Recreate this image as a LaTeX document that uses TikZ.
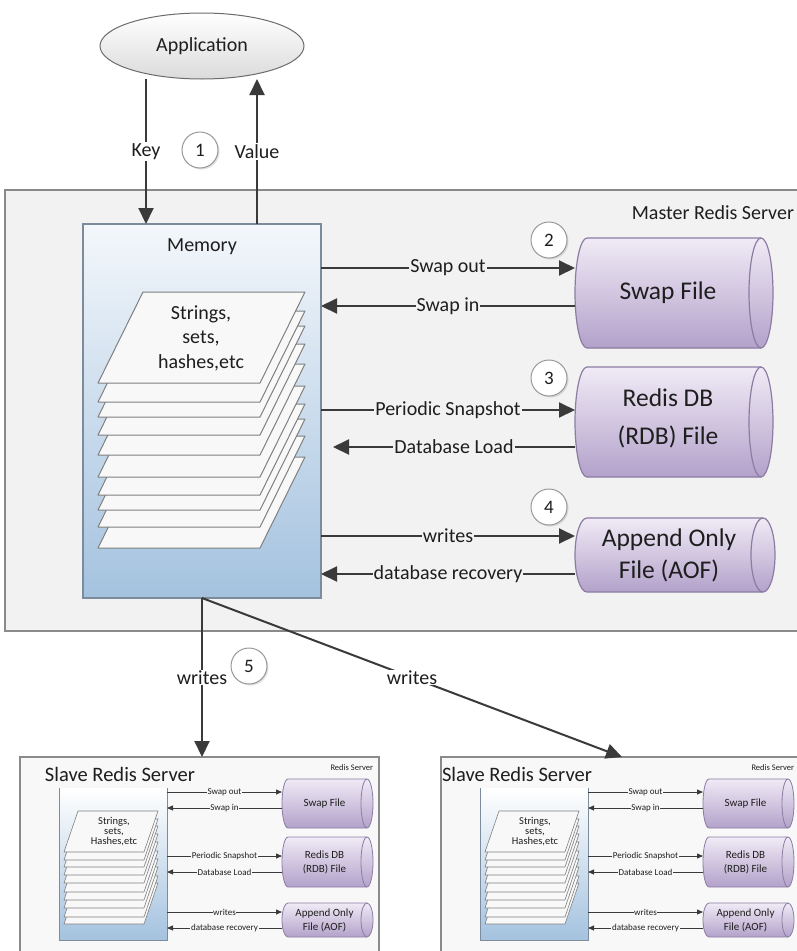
\documentclass[tikz,border=0pt]{standalone}
\usepackage{fontspec}
\setmainfont{Carlito}
\usetikzlibrary{arrows.meta,shapes.geometric,shadows,calc}
\definecolor{ink}{HTML}{1E1E1E}
\definecolor{arrowc}{HTML}{3A3A3A}
\definecolor{masterbg}{HTML}{F2F2F2}
\definecolor{slavebg}{HTML}{F8F8F8}
\definecolor{boxline}{HTML}{8A8A8A}
\definecolor{memtop}{HTML}{F3F7FB}
\definecolor{membot}{HTML}{A4C2DF}
\definecolor{memline}{HTML}{7D8C9C}
\definecolor{cyltop}{HTML}{F0EBF6}
\definecolor{cylbot}{HTML}{B3A1CA}
\definecolor{cylline}{HTML}{8C7CA3}
\definecolor{sheetc}{HTML}{F8F8F8}
\definecolor{sheetline}{HTML}{7F7F7F}
\newcommand\myfs[2]{\fontsize{#1}{#2}\selectfont}

\tikzset{
  every node/.append style={text=ink, outer sep=0pt},
  arr/.style={draw=arrowc, line width=2pt, -{Triangle[length=16pt,width=15pt]}},
  sarr/.style={draw=arrowc, line width=0.8pt, -{Triangle[length=6pt,width=5pt]}},
  lbl/.style={fill=masterbg, inner sep=1pt, font=\myfs{20}{22}},
  slbl/.style={fill=slavebg, inner sep=0.6pt, font=\myfs{9}{10}},
  num/.style={circle, draw=gray!80, line width=1pt, fill=white, minimum size=36pt, inner sep=0pt, font=\myfs{19}{20},
    drop shadow={shadow xshift=1.5pt, shadow yshift=-1.5pt, opacity=0.25}},
  memstyle/.style={draw=memline, line width=1.2pt, top color=memtop, bottom color=membot, inner sep=0pt},
  smemfill/.style={top color=white, bottom color=membot, inner sep=0pt},
  msheet/.style={draw=sheetline, fill=sheetc, line width=1pt, line join=round},
  ssheet/.style={draw=sheetline, fill=sheetc, line width=0.6pt, line join=round},
  cylbody/.style={draw=cylline, top color=cyltop, bottom color=cylbot},
}

% #1 name, #2 L, #3 T, #4 R, #5 B, #6 rx, #7 text options, #8 text, #9 line width
\newcommand\cyl[9]{%
  \pgfmathsetmacro\cxa{#2+#6}\pgfmathsetmacro\cxb{#4-#6}%
  \pgfmathsetmacro\cry{(#5-#3)/2}%
  \pgfmathsetmacro\cmx{(#2+#4)/2}\pgfmathsetmacro\cmy{(#3+#5)/2}%
  \pgfmathsetmacro\cw{#4-#2}\pgfmathsetmacro\ch{#5-#3}%
  \pgfmathsetmacro\ctx{(#2+#4)/2-#6/2}%
  \node[inner sep=0pt, minimum width=\cw pt, minimum height=\ch pt] (#1) at (\cmx,\cmy) {};
  \path[cylbody, line width=#9] (\cxa,#3) -- (\cxb,#3)
     arc[start angle=90, end angle=-90, x radius=#6pt, y radius=\cry pt]
     -- (\cxa,#5)
     arc[start angle=-90, end angle=-270, x radius=#6pt, y radius=\cry pt] -- cycle;
  \draw[draw=cylline, line width=#9] (\cxb,#3)
     arc[start angle=90, end angle=270, x radius=#6pt, y radius=\cry pt];
  \node[inner sep=0pt, align=center, #7] (#1-t) at (\ctx,\cmy) {#8};
}

% #1 prefix, #2 xshift, #3 box right (unshifted), #4 title x (unshifted)
\newcommand\slave[4]{%
\begin{scope}[xshift=#2pt, name prefix=#1-]
  \pgfmathsetmacro\sbw{#3-20}
  \node[draw=boxline, line width=1.2pt, fill=slavebg, anchor=north west,
        minimum width=\sbw pt, minimum height=210pt, inner sep=0pt] (box) at (20,757) {};
  \node[anchor=west, inner sep=0pt, font=\myfs{20.5}{22}] (title) at (#4,774) {Slave Redis Server};
  \node[anchor=east, inner sep=0pt, font=\myfs{8.5}{9}] (tag) at (373,768) {Redis Server};
  \node[smemfill, anchor=north west, minimum width=108pt, minimum height=152pt] (mem) at (59,788) {};
  \draw[draw=memline, line width=0.8pt] (mem.north west) -- (mem.south west) -- (mem.south east) -- (mem.north east);
  \foreach \o in {72,65,56,48,40,31,23,15,8,0}
    \draw[ssheet] (78,811+\o) -- ++(80,0) -- ++(-14,41) -- ++(-80,0) -- cycle;
  \node[align=center, inner sep=0pt, font=\myfs{10.5}{10}] (data) at (114,832) {Strings,\\sets,\\Hashes,etc};
  \cyl{swp}{282}{779}{373}{828}{6}{font=\myfs{11}{13}}{Swap File}{0.8pt}
  \cyl{rdb}{282}{837}{373}{887}{6}{font=\myfs{11}{14}}{Redis DB\\(RDB) File}{0.8pt}
  \cyl{aof}{282}{903}{373}{937}{6}{font=\myfs{11}{14}}{Append Only\\File (AOF)}{0.8pt}
  \draw[sarr] (mem.east |- 0,792) -- node[slbl]{Swap out} (swp.west |- 0,792);
  \draw[sarr] (swp.west |- 0,808) -- node[slbl]{Swap in} (mem.east |- 0,808);
  \draw[sarr] (mem.east |- 0,856) -- node[slbl]{Periodic Snapshot} (rdb.west |- 0,856);
  \draw[sarr] (rdb.west |- 0,872) -- node[slbl]{Database Load} (mem.east |- 0,872);
  \draw[sarr] (mem.east |- 0,912) -- node[slbl]{writes} (aof.west |- 0,912);
  \draw[sarr] (aof.west |- 0,928) -- node[slbl]{database recovery} (mem.east |- 0,928);
\end{scope}}

\begin{document}
\begin{tikzpicture}[x=1pt, y=-1pt]
\path[use as bounding box, clip] (0,0) rectangle (797,951);
\fill[white] (0,0) rectangle (797,951);

% application
\node[ellipse, draw=gray!85!black, line width=1pt, top color=white, bottom color=black!14,
      minimum width=204pt, minimum height=66pt, inner sep=0pt, font=\myfs{20}{22}] (app) at (202,46) {Application};

% master server
\node[draw=boxline, line width=1.5pt, fill=masterbg, anchor=north west,
      minimum width=800pt, minimum height=441pt, inner sep=0pt] (master) at (5,190) {};
\node[anchor=east, inner sep=0pt, font=\myfs{20}{22}] (mlabel) at (794,213) {Master Redis Server};

% memory
\node[memstyle, anchor=north west, minimum width=238pt, minimum height=374pt] (mem) at (83,224) {};
\node[inner sep=0pt, font=\myfs{20}{22}] (memlbl) at (202,247) {Memory};
\foreach \o in {165,144,127,112,94,72,52,34,19,0}
  \draw[msheet] (143,292+\o) -- ++(162,0) -- ++(-45,91) -- ++(-162,0) -- cycle;
\node[align=center, inner sep=0pt, font=\myfs{20}{24.5}] (data) at (201,338) {Strings,\\sets,\\hashes,etc};

% storage cylinders
\cyl{swp}{575}{238}{773}{348}{12}{font=\myfs{25.5}{30}}{Swap File}{1.2pt}
\cyl{rdb}{575}{367}{773}{477}{12}{font=\myfs{25.5}{38}, yshift=4pt}{Redis DB\\(RDB) File}{1.2pt}
\cyl{aof}{575}{518}{775}{592}{12}{font=\myfs{25.5}{32}}{Append Only\\File (AOF)}{1.2pt}

% master arrows
\draw[arr] (mem.east |- 0,268) -- node[lbl]{Swap out} (swp.west |- 0,268);
\draw[arr] (swp.west |- 0,306) -- node[lbl]{Swap in} (mem.east |- 0,306);
\draw[arr] (mem.east |- 0,410) -- node[lbl]{Periodic Snapshot} (rdb.west |- 0,410);
\draw[arr] (rdb.west |- 0,447) -- node[lbl]{Database Load} ($(mem.east |- 0,447)+(12,0)$);
\draw[arr] (mem.east |- 0,536) -- node[lbl]{writes} (aof.west |- 0,536);
\draw[arr] (aof.west |- 0,574) -- node[lbl]{database recovery} (mem.east |- 0,574);

% application arrows
\draw[arr] (app.south -| 146,0) -- node[lbl, fill=white]{Key} (mem.north -| 146,0);
\draw[arr] (mem.north -| 257,0) -- node[lbl, fill=white]{Value} (app.south -| 257,0);

% slaves
\slave{s1}{0}{379}{45}
\slave{s2}{421}{382}{21}

% replication arrows
\draw[arr] (mem.south) -- node[lbl, fill=white]{writes} (mem.south |- s1-box.north);
\draw[arr] (mem.south) -- node[lbl, fill=white]{writes} (s2-box.north);

% step numbers
\node[num] (n1) at (200,150) {1};
\node[num] (n2) at (549,240) {2};
\node[num] (n3) at (549,378) {3};
\node[num] (n4) at (549,507) {4};
\node[num] (n5) at (249,666) {5};
\end{tikzpicture}
\end{document}
